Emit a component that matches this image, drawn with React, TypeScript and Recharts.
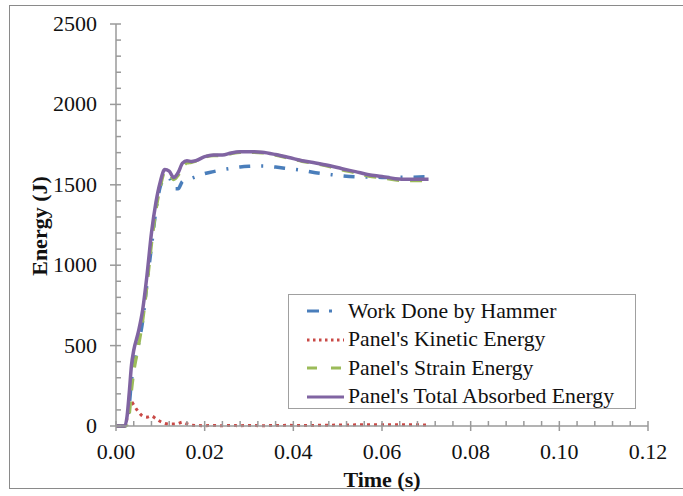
import React from 'react';
import { LineChart, Line, XAxis, YAxis, Legend } from 'recharts';

// time (s)
const time = [
  0, 0.002, 0.0025, 0.003, 0.0035, 0.004, 0.005, 0.006, 0.007, 0.008, 0.009, 0.01, 0.011, 0.012,
  0.013, 0.014, 0.015, 0.016, 0.017, 0.018, 0.02, 0.022, 0.024, 0.026, 0.028, 0.03, 0.033, 0.036,
  0.039, 0.042, 0.045, 0.048, 0.051, 0.054, 0.057, 0.06, 0.063, 0.066, 0.0705,
];

// energies (J)
const workDone = [
  0, 0, 20, 130, 285, 370, 500, 650, 890, 1115, 1340, 1490, 1540, 1545, 1475, 1475, 1522, 1532,
  1540, 1550, 1570, 1582, 1594, 1603, 1611, 1615, 1617, 1610, 1600, 1590, 1575, 1565, 1556, 1550,
  1548, 1546, 1546, 1547, 1550,
];
const kinetic = [
  0, 0, 50, 130, 150, 130, 90, 62, 55, 62, 45, 28, 16, 12, 12, 15, 24, 14, 5, 3, 2, 3, 2, 3, 2, 3,
  2, 3, 4, 3, 4, 5, 6, 7, 8, 8, 7, 8, 6,
];
const strain = [
  0, 0, 10, 80, 230, 340, 490, 658, 885, 1138, 1345, 1492, 1579, 1573, 1533, 1560, 1611, 1636,
  1640, 1647, 1673, 1682, 1683, 1695, 1703, 1703, 1700, 1685, 1666, 1647, 1632, 1615, 1594, 1575,
  1555, 1544, 1531, 1526, 1528,
];
const total = [
  0, 0, 60, 210, 380, 470, 580, 720, 940, 1200, 1390, 1520, 1595, 1585, 1545, 1575, 1635, 1650,
  1645, 1650, 1675, 1685, 1685, 1698, 1705, 1706, 1702, 1688, 1670, 1650, 1636, 1620, 1600, 1582,
  1563, 1552, 1538, 1534, 1534,
];

const xMajor = [0, 0.02, 0.04, 0.06, 0.08, 0.1, 0.12];
const yMajor = [0, 500, 1000, 1500, 2000, 2500];
const xTicks = Array.from({ length: 31 }, (_, i) => +(i * 0.004).toFixed(3));
const yTicks = Array.from({ length: 26 }, (_, i) => i * 100);

const data = time.map((t, i) => ({
  t,
  work: workDone[i],
  kinetic: kinetic[i],
  strain: strain[i],
  total: total[i],
}));

const FONT = 'Liberation Serif, serif';
const AXIS = '#9a9a9a';

const series = [
  { key: 'work', name: 'Work Done by Hammer', color: '#4A7EBB', dash: '11 11 2 11', width: 3.5, legendDash: '12 10 3 20' },
  { key: 'kinetic', name: "Panel's Kinetic Energy", color: '#C94A47', dash: '3 4', width: 3, legendDash: '2.5 3.5' },
  { key: 'strain', name: "Panel's Strain Energy", color: '#9BBB59', dash: '12 11', width: 3.5, legendDash: '10 14' },
  { key: 'total', name: "Panel's Total Absorbed Energy", color: '#8064A2', dash: undefined, width: 3.5, legendDash: undefined },
];

const isMajor = (list: number[], v: number) => list.some((m) => Math.abs(m - v) < 1e-9);

const XTick = (props: any) => {
  const { x, y, payload } = props;
  const major = isMajor(xMajor, payload.value);
  return (
    <g>
      <line x1={x} x2={x} y1={y - 5} y2={major ? y + 5 : y} stroke={AXIS} strokeWidth={1.5} />
      {major && (
        <text x={x} y={y + 33} textAnchor="middle" style={{ fontFamily: FONT, fontSize: 22 }} fill="#111">
          {payload.value.toFixed(2)}
        </text>
      )}
    </g>
  );
};

const YTick = (props: any) => {
  const { x, y, payload } = props;
  const major = isMajor(yMajor, payload.value);
  return (
    <g>
      <line x1={major ? x - 6 : x} x2={x + 5} y1={y} y2={y} stroke={AXIS} strokeWidth={1.5} />
      {major && (
        <text x={x - 19} y={y + 7} textAnchor="end" style={{ fontFamily: FONT, fontSize: 22 }} fill="#111">
          {payload.value}
        </text>
      )}
    </g>
  );
};

const LegendBox = () => (
  <div
    style={{
      position: 'relative',
      width: 348,
      height: 115,
      boxSizing: 'border-box',
      border: '1.5px solid #a0a0a0',
      background: '#fff',
      fontFamily: FONT,
      fontSize: 21.7,
      color: '#111',
    }}
  >
    {series.map((s, i) => (
      <div key={s.key} style={{ position: 'absolute', left: 17, top: 2 + i * 28.6, height: 28, display: 'flex', alignItems: 'center', whiteSpace: 'nowrap' }}>
        <svg width={40} height={10} style={{ marginRight: 2 }}>
          <line x1={1} x2={38} y1={5} y2={5} stroke={s.color} strokeWidth={3} strokeDasharray={s.legendDash} />
        </svg>
        <span>{s.name}</span>
      </div>
    ))}
  </div>
);

export default function App() {
  return (
    <div style={{ position: 'absolute', left: 0, top: 0, width: 683, height: 496, overflow: 'hidden', background: '#fff' }}>
      <div style={{ position: 'absolute', left: 8.5, top: 4.5, width: 700, height: 484, boxSizing: 'border-box', border: '1.5px solid #8a8a8a' }} />
      <div style={{ position: 'absolute', left: 0, top: 0 }}>
        <LineChart width={683} height={496} data={data} margin={{ top: 24, right: 35, left: 10, bottom: 0 }}>
          <XAxis
            dataKey="t"
            type="number"
            domain={[0, 0.12]}
            ticks={xTicks}
            interval={0}
            tickSize={0}
            tickMargin={0}
            tickLine={false}
            tick={<XTick />}
            height={70}
            axisLine={{ stroke: AXIS, strokeWidth: 1.5 }}
            label={{
              content: (p: any) => (
                <text x={p.viewBox.x + p.viewBox.width / 2} y={487} textAnchor="middle" style={{ fontFamily: FONT, fontSize: 22, fontWeight: 'bold' }} fill="#111">
                  Time (s)
                </text>
              ),
            }}
          />
          <XAxis xAxisId="top" orientation="top" type="number" domain={[0, 0.12]} height={0} tick={false} tickLine={false} axisLine={{ stroke: '#b0b0b0', strokeWidth: 1.5 }} />
          <YAxis
            type="number"
            domain={[0, 2500]}
            ticks={yTicks}
            interval={0}
            tickSize={0}
            tickMargin={0}
            tickLine={false}
            tick={<YTick />}
            width={106}
            axisLine={{ stroke: AXIS, strokeWidth: 1.5 }}
            label={{
              content: (p: any) => {
                const cx = 39;
                const cy = p.viewBox.y + p.viewBox.height / 2 + 1;
                return (
                  <text x={cx} y={cy} transform={`rotate(-90 ${cx} ${cy})`} textAnchor="middle" dominantBaseline="central" style={{ fontFamily: FONT, fontSize: 22, fontWeight: 'bold' }} fill="#111">
                    Energy (J)
                  </text>
                );
              },
            }}
          />
          <YAxis yAxisId="right" orientation="right" type="number" domain={[0, 2500]} width={0} tick={false} tickLine={false} axisLine={{ stroke: '#b0b0b0', strokeWidth: 1.5 }} />
          {series.map((s) => (
            <Line
              key={s.key}
              type="monotone"
              dataKey={s.key}
              name={s.name}
              stroke={s.color}
              strokeWidth={s.width}
              strokeDasharray={s.dash}
              dot={false}
              activeDot={false}
              isAnimationActive={false}
            />
          ))}
          <Legend
            layout="vertical"
            align="center"
            verticalAlign="middle"
            content={() => <LegendBox />}
            wrapperStyle={{ position: 'absolute', left: 288, top: 294, width: 348, height: 115 }}
          />
        </LineChart>
      </div>
    </div>
  );
}
